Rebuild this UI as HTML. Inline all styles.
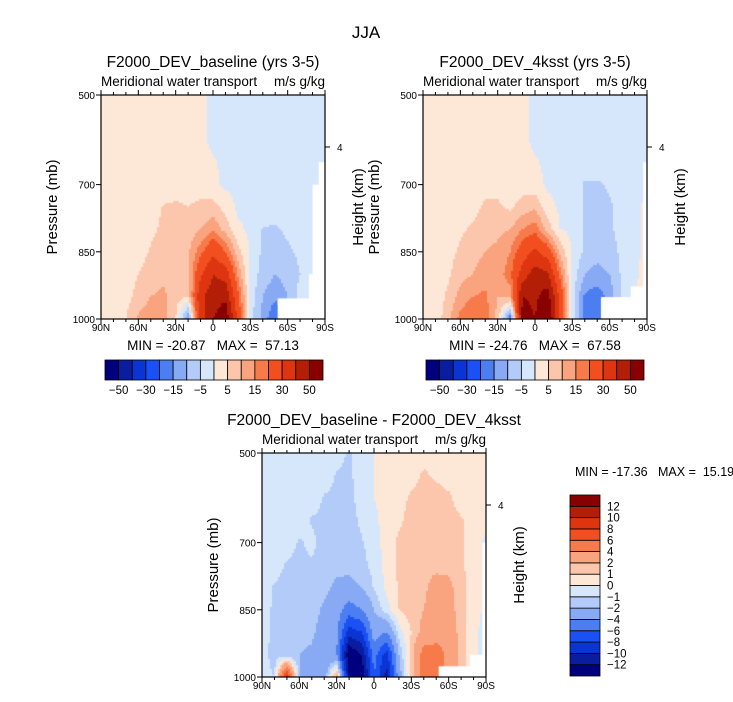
<!DOCTYPE html>
<html><head><meta charset="utf-8">
<style>
html,body{margin:0;padding:0;background:#fff;}
#wrap{position:relative;width:733px;height:702px;overflow:hidden;font-family:"Liberation Sans",sans-serif;}
canvas{position:absolute;}
svg{position:absolute;left:0;top:0;}
</style></head>
<body>
<div id="wrap">
<canvas id="c1" width="224" height="224" style="left:101px;top:95px"></canvas>
<canvas id="c2" width="224" height="224" style="left:423px;top:95px"></canvas>
<canvas id="c3" width="224" height="224" style="left:262px;top:453px"></canvas>
<svg id="ov" width="733" height="702"></svg>
</div>
<script>
// ---- data ----
const lats = [90,80,70,60,50,40,30,20,10,0,-10,-20,-30,-40,-50,-60,-70,-80,-90];
const levelsP = [500,550,600,650,700,750,800,850,900,950,1000];
const mainLevels = [-50,-40,-30,-20,-15,-10,-5,0,5,10,15,20,30,40,50];
const mainLabels = [-50,-30,-15,-5,5,15,30,50];
const diffLevels = [-12,-10,-8,-6,-4,-2,-1,0,1,2,4,6,8,10,12];
const baseline = [
[1,1,1,1,1,1,1,1,1,-1,-1,-1,-1,-1,-1,-1,-1,-1,-1],
[1,1,1,1,1,1,1,1,1,-1,-1,-1,-1,-1,-1,-1,-1,-1,-1],
[1,1,1,1,1,1,1,1,1,-1,-1,-1,-1,-1,-1,-1,-1,-1,-1],
[1,1,1,1,1,1,1,1,2,0.5,-1,-1,-1,-1,-1,-1,-1,-1,-1],
[1,1,1,1,1,1,2,3,3,1,-1,-1,-1,-1,-1,-1,-1,-1,-1],
[1,1,1,1,2,5.5,6,5,6,7,3,-1,-1,-1,-1,-1,-1,-1,1],
[1,1,1,2,4,6,7,7,10,14,8,1,-1,-5.5,-6,-4,-1,-1,1],
[1,1,2,3,5.5,7,8,9,18,28,20,7,-1,-6,-7,-6,-4,-1,1],
[1,1,2,5,7,9,10,8,28,40,36,14,-2,-7,-10,-8,-5,-1,2],
[1,1,3,7,10,11,7,5,38,45,48,22,-2,-10,-14,-10,-3,1,2],
[1,1,5,11,13,12,5,-15,35,50,58,28,-3,-12,-20,-10,-3,1,2]];
const ksst = [
[1,1,1,1,1,1,1,1,1,-1,-1,-1,-1,-1,-1,-1,-1,-1,-1],
[1,1,1,1,1,1,1,1,1,-1,-1,-1,-1,-1,-1,-1,-1,-1,-1],
[1,1,1,1,1,1,1,1,1,-1,-1,-1,-1,-1,-1,-1,-1,-1,-1],
[1,1,1,1,1,1,1,1,2,0.5,-1,-1,-1,-1,-1,-1,-1,-1,-1],
[1,1,1,1,1,3,3,2,3,2,-1,-1,-1,-6,-6,-4,-1,-1,-1],
[1,1,1,2,3,6,6,4,7,9,2,-1,-1,-6,-7,-6,-2,-1,1],
[1,1,2,4,6,8,9,10,15,18,8,0,-1,-6,-7,-6,-3,-1,1],
[1,1,3,6,8,10,11,15,25,32,25,9,-1,-6,-8,-7,-4,-1,1],
[1,1,4,8,10,13,12,18,35,45,42,18,-2,-10,-12,-10,-4,-1,2],
[1,2,6,12,15,16,10,12,50,48,55,28,-3,-16,-18,-13,-4,0,2],
[1,2,8,17,20,18,8,-20,55,50,62,30,-3,-18,-20,-15,-5,0,2]];
const diff = [
[-.5,-.5,-.5,-.5,-.5,-.5,-.5,-1.2,-.5,0,.5,.5,.5,.5,.5,.5,.5,.5,.5],
[-.5,-.5,-.5,-.5,-.5,-.5,-1.1,-1.2,-.5,0,.5,.5,.5,1.2,.8,.5,.5,.5,.5],
[-.5,-.5,-.5,-.5,-.5,-1.1,-1.2,-1.3,-.6,0,.5,.5,1.2,1.5,1.5,1.2,.5,.5,.5],
[-.5,-.5,-.5,-.5,-1.1,-1.2,-1.3,-1.4,-.8,-.3,.5,.8,1.4,1.5,1.5,1.4,1.1,.5,.5],
[-.5,-.5,-.6,-1.1,-.8,-1.3,-1.4,-1.5,-1.1,-.5,.5,1.2,1.5,1.6,1.6,1.5,1.2,.5,-.3],
[-.5,-.6,-1.1,-1.2,-1.1,-1.4,-1.6,-1.7,-1.3,-.7,.3,1.2,1.6,1.7,1.7,1.6,1.2,.5,-.3],
[-.5,-1.1,-1.3,-1.4,-1.4,-1.7,-2.3,-2.4,-2,-.9,.3,1.1,1.7,1.8,2.5,2.4,1.3,.5,-.3],
[-.5,-1.2,-1.5,-1.5,-1.6,-2.2,-3,-5,-4,-2,-.5,1,1.5,2,2.5,2.6,1.4,.5,-.3],
[-.5,-1.3,-1.5,-1.6,-1.8,-2.5,-3.5,-9,-8,-3,-4,-.5,1,2.5,3,3,1.5,.3,-.5],
[-.5,-1.5,-1.8,-2,-2.2,-3,-4,-14,-12,-5,-9,-2,1.5,5,5,3.5,1.5,.3,-.5],
[-.5,-1,9,-2,-2.5,-3,3,-12,-14,-6,-11,-3,1.5,5,5,3,1.5,.3,-.5]];
const maskBase = [[-52,-79,954,1000],[-85,-90,650,1000],[-80,-90,700,1000],[-77,-90,900,1000]];
const maskKsst = [[-53,-79,951,1000],[-77,-90,927,1000],[-87,-90,650,1000]];
const maskDiff = [[-52,-77,976,1000],[-77,-90,950,1000],[-87,-90,700,1000]];
const stats = [["MIN = -20.87   MAX =  57.13"],["MIN = -24.76   MAX =  67.58"],["MIN = -17.36   MAX =  15.19"]];
const colors = ['#00007f','#0a1d9e','#0b35d2','#1b50f4','#4c7ef1','#88aaf5','#b3cbf8','#d6e7fb','#fde7d7','#fcc6ac','#f9a37f','#f77a4b','#f24f20','#dd3510','#b21f06','#880000'];

// ---- scales ----
function xScale(lat,x0){return x0+(90-lat)/180*224;}
function yScale(p,y0){return y0+(p-500)/500*224;}
function colorFor(v,lv){let i=0;while(i<lv.length&&v>=lv[i])i++;return colors[i];}
function sample(g,fx,fy){
  const c=fx*(lats.length-1), r=fy*(levelsP.length-1);
  const c0=Math.min(Math.floor(c),lats.length-2), r0=Math.min(Math.floor(r),levelsP.length-2);
  const tx=c-c0, ty=r-r0;
  const a=g[r0][c0]*(1-tx)+g[r0][c0+1]*tx, b=g[r0+1][c0]*(1-tx)+g[r0+1][c0+1]*tx;
  return a*(1-ty)+b*ty;
}
function drawField(id,g,lv,mask){
  const ctx=document.getElementById(id).getContext('2d');
  const s=2;
  for(let y=0;y<224;y+=s)for(let x=0;x<224;x+=s){
    ctx.fillStyle=colorFor(sample(g,(x+1)/224,(y+1)/224),lv);
    ctx.fillRect(x,y,s,s);
  }
  ctx.fillStyle='#fff';
  mask.forEach(m=>{const x1=xScale(m[0],0),x2=xScale(m[1],0),y1=yScale(m[2],0),y2=yScale(m[3],0);ctx.fillRect(x1,y1,x2-x1,y2-y1);});
}
drawField('c1',baseline,mainLevels,maskBase);
drawField('c2',ksst,mainLevels,maskKsst);
drawField('c3',diff,diffLevels,maskDiff);

// ---- annotations ----
const NS='http://www.w3.org/2000/svg', svg=document.getElementById('ov');
function el(t,a,txt){const e=document.createElementNS(NS,t);for(const k in a)e.setAttribute(k,a[k]);if(txt!==undefined)e.textContent=txt;svg.appendChild(e);return e;}
function text(x,y,s,size,anchor,name,rot){
  const e=el('text',{x:x,y:y,'font-size':size,'text-anchor':anchor||'start',fill:'#000','font-family':'Liberation Sans, sans-serif'},s);
  if(rot)e.setAttribute('transform','rotate(-90 '+x+' '+y+')');
  
  
  e.style.whiteSpace='pre';
  return e;
}
text(366,38,'JJA',17,'middle','figure-title');
const latLab=['90N','60N','30N','0','30S','60S','90S'];
function panel(x0,y0,title,tname,statIdx,statX,statY,statAnchor,statSize){
  text(x0+112,y0-28,title,15.5,'middle',tname);
  text(x0,y0-9,'Meridional water transport',13.5,'start','subtitle');
  text(x0+224,y0-9,'m/s g/kg',13.5,'end','units-label');
  const fr=el('rect',{x:x0,y:y0,width:224,height:224,fill:'none',stroke:'#000','stroke-width':1.2});
  
  
  for(let lat=90;lat>=-90;lat-=10){
    const x=xScale(lat,x0), major=lat%30===0;
    el('line',{x1:x,x2:x,y1:y0,y2:y0-(major?5:3),stroke:'#000'});
    el('line',{x1:x,x2:x,y1:y0+224,y2:y0+224+(major?5:3),stroke:'#000'});
  }
  latLab.forEach((l,i)=>text(xScale(90-30*i,x0),y0+236,l,10,'middle','x-tick-label'));
  [500,700,850,1000].forEach(p=>{const y=yScale(p,y0);el('line',{x1:x0-5,x2:x0,y1:y,y2:y,stroke:'#000'});text(x0-6,y+4,String(p),10,'end','y-tick-label');});
  const hy=y0+52;
  el('line',{x1:x0+224,x2:x0+229,y1:hy,y2:hy,stroke:'#000'});
  text(x0+236,hy+4,'4',10,'start','height-tick-label');
  text(x0-44,y0+112,'Pressure (mb)',15,'middle','y-axis-title',true);
  text(x0+262,y0+112,'Height (km)',15,'middle','right-axis-title',true);
  text(statX,statY,stats[statIdx][0],statSize,statAnchor,'min-max-label');
}
panel(101,95,'F2000_DEV_baseline (yrs 3-5)','panel-title-baseline',0,213,350,'middle',13.5);
panel(423,95,'F2000_DEV_4ksst (yrs 3-5)','panel-title-4ksst',1,535,350,'middle',13.5);
panel(262,453,'F2000_DEV_baseline - F2000_DEV_4ksst','panel-title-difference',2,575,476,'start',12.5);

function hbar(x0,y0,w,h){
  const bw=w/colors.length;
  colors.forEach((c,i)=>{const r=el('rect',{x:x0+i*bw,y:y0,width:bw,height:h,fill:c,stroke:'#000','stroke-width':0.8});
    
    });
  mainLevels.forEach((v,i)=>{if(mainLabels.indexOf(v)>=0)text(x0+(i+1)*bw,y0+h+14,String(v).replace('-','\u2212'),11.5,'middle','colorbar-label');});
}
hbar(105,360,218,20);
hbar(426,360,218,20);
function vbar(x0,y0,w,h){
  const bh=h/colors.length;
  colors.forEach((c,i)=>{const r=el('rect',{x:x0,y:y0+h-(i+1)*bh,width:w,height:bh,fill:c,stroke:'#000','stroke-width':0.8});
    
    });
  diffLevels.forEach((v,i)=>text(x0+w+7,y0+h-(i+1)*bh+4,String(v).replace('-','\u2212'),11.5,'start','colorbar-label'));
}
vbar(570,495,30,181);
</script>
</body></html>
